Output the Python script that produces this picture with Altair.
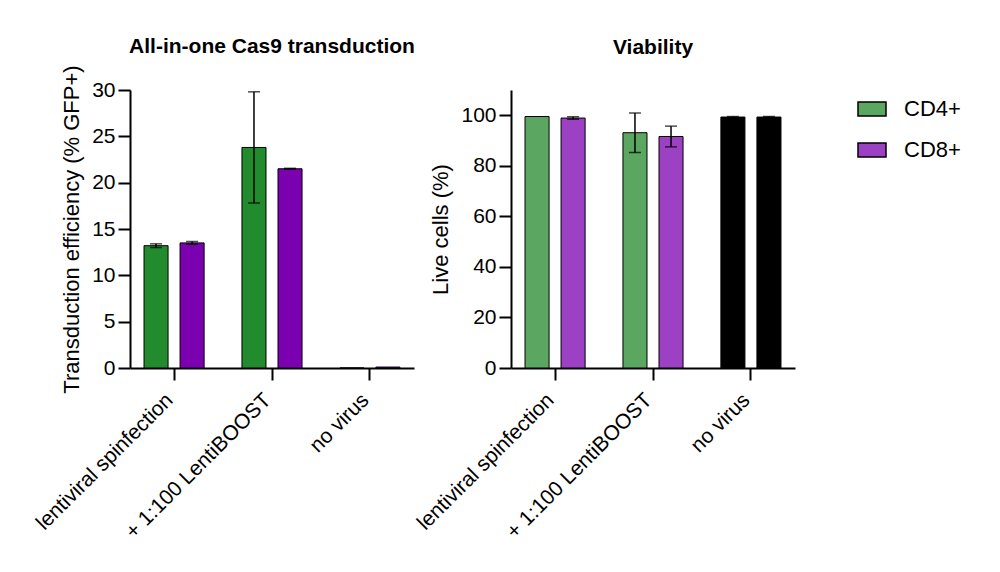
import altair as alt
import pandas as pd

categories = ["lentiviral spinfection", "+ 1:100 LentiBOOST", "no virus"]
groups = ["CD4+", "CD8+"]

# Transduction efficiency (% GFP+)
trans_cd4 = [13.2, 23.8, 0.0]
trans_cd4_err = [0.2, 6.0, 0.0]
trans_cd8 = [13.5, 21.5, 0.1]
trans_cd8_err = [0.15, 0.05, 0.0]

# Viability (% live cells)
via_cd4 = [99.5, 93.1, 99.3]
via_cd4_err = [0.0, 7.8, 0.2]
via_cd8 = [98.9, 91.6, 99.3]
via_cd8_err = [0.5, 4.1, 0.2]

left_colors = {"CD4+": "#228B2E", "CD8+": "#7B00B0"}
right_colors = ["#5BA660", "#9C40C4"]

def make_df(cd4, cd4e, cd8, cd8e):
    rows = []
    for i, c in enumerate(categories):
        rows.append({"cat": c, "group": "CD4+", "val": cd4[i], "err": cd4e[i]})
        rows.append({"cat": c, "group": "CD8+", "val": cd8[i], "err": cd8e[i]})
    df = pd.DataFrame(rows)
    df["lo"] = df["val"] - df["err"]
    df["hi"] = df["val"] + df["err"]
    return df

df_t = make_df(trans_cd4, trans_cd4_err, trans_cd8, trans_cd8_err)
df_t["hex"] = df_t["group"].map(left_colors)
df_v = make_df(via_cd4, via_cd4_err, via_cd8, via_cd8_err)

FONT = "Liberation Sans"
W, H = 284, 278

xenc = alt.X("cat:N", sort=categories,
             scale=alt.Scale(domain=categories, paddingInner=0.1, paddingOuter=0),
             axis=alt.Axis(title=None, labelAngle=-45, labelFontSize=21, labelFont=FONT,
                           labelColor="black", tickSize=12, tickWidth=2, tickColor="black",
                           domainWidth=2, domainColor="black", labelPadding=9, grid=False,
                           labelOverlap=False, labelLimit=400, labelOffset=-12))
xoff = alt.XOffset("group:N", sort=groups,
                   scale=alt.Scale(domain=groups, paddingInner=0.333, paddingOuter=0.389))

def yenc(domain, ticks, title):
    return alt.Y("val:Q", scale=alt.Scale(domain=domain, nice=False),
                 axis=alt.Axis(title=title, values=ticks, titleFontSize=22, titleFont=FONT,
                               titleFontWeight="normal", titleColor="black", titlePadding=8,
                               labelFontSize=21, labelFont=FONT, labelColor="black",
                               tickSize=12, tickWidth=2, tickColor="black",
                               domainWidth=2, domainColor="black", grid=False, labelPadding=3,
                               titleLimit=500))

def errlayers(df):
    d = df[df["err"] > 0]
    base = alt.Chart(d).encode(x=alt.X("cat:N", sort=categories),
                               xOffset=alt.XOffset("group:N", sort=groups))
    rule = base.mark_rule(color="black", strokeWidth=1.5).encode(
        y=alt.Y("lo:Q"), y2="hi:Q")
    cap_hi = base.mark_tick(color="black", thickness=1.5, size=12).encode(y="hi:Q")
    cap_lo = base.mark_tick(color="black", thickness=1.5, size=12).encode(y="lo:Q")
    return [rule, cap_hi, cap_lo]

def title(text, offset):
    return alt.TitleParams(text, fontSize=21, font=FONT, fontWeight="bold", color="black",
                           offset=offset, anchor="middle", frame="group")

# Left panel
bars_t = alt.Chart(df_t).mark_bar(stroke="black", strokeWidth=1).encode(
    x=xenc, xOffset=xoff,
    y=yenc([0, 30], [0, 5, 10, 15, 20, 25, 30], "Transduction efficiency (% GFP+)"),
    fill=alt.Fill("hex:N", scale=None),
)
left = alt.layer(bars_t, *errlayers(df_t)).properties(
    width=W, height=H, title=title("All-in-one Cas9 transduction", 8))

# Right panel
df_v_col = df_v[df_v["cat"] != "no virus"]
df_v_blk = df_v[df_v["cat"] == "no virus"]
bars_v = alt.Chart(df_v_col).mark_bar(stroke="black", strokeWidth=1).encode(
    x=xenc, xOffset=xoff,
    y=yenc([0, 110], [0, 20, 40, 60, 80, 100], "Live cells (%)"),
    color=alt.Color("group:N", sort=groups,
                    scale=alt.Scale(domain=groups, range=right_colors),
                    legend=alt.Legend(title=None, orient="none", legendX=346, legendY=4,
                                      symbolType="M-1,-0.5L1,-0.5L1,0.5L-1,0.5Z",
                                      symbolSize=784, symbolStrokeColor="black",
                                      symbolStrokeWidth=1.5, symbolOpacity=1,
                                      labelFontSize=22, labelFont=FONT, labelColor="black",
                                      rowPadding=15, labelOffset=17, padding=0)),
)
bars_blk = alt.Chart(df_v_blk).mark_bar(stroke="black", strokeWidth=1, color="black").encode(
    x=alt.X("cat:N", sort=categories), xOffset=alt.XOffset("group:N", sort=groups),
    y=alt.Y("val:Q"),
)
right = alt.layer(bars_v, bars_blk, *errlayers(df_v)).properties(
    width=W, height=H, title=title("Viability", 32))

chart = alt.hconcat(left, right, spacing=97, bounds="flush").resolve_scale(
    color="independent").properties(
    background="white",
    padding={"left": 23, "top": 27, "right": 5, "bottom": 5},
).configure_view(strokeWidth=0, stroke="transparent")

chart.save("out.html", embed_options={"renderer": "svg", "actions": False})
